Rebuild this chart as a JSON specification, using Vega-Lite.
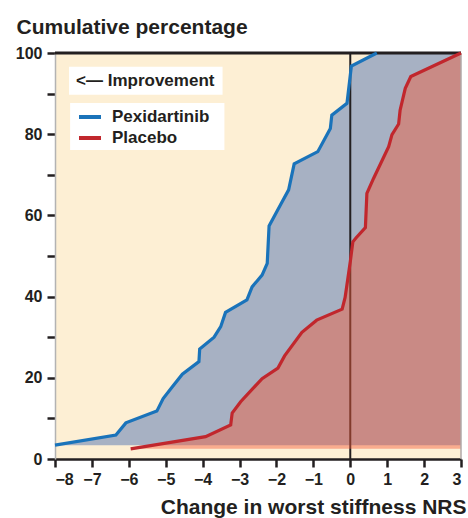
{
  "$schema": "https://vega.github.io/schema/vega-lite/v6.json",
  "width": 406,
  "height": 406,
  "autosize": {"type": "none"},
  "padding": {"left": 55, "top": 53, "right": 7, "bottom": 59},
  "background": "white",
  "config": {
    "view": {"fill": "#fdefd4", "stroke": null},
    "font": "Liberation Sans",
    "axis": {"zindex": 1, "grid": false, "labelColor": "#231f20", "titleColor": "#231f20", "tickColor": "#231f20", "labelFont": "Liberation Sans", "titleFont": "Liberation Sans", "labelFontWeight": "bold", "titleFontWeight": "bold"}
  },
  "datasets": {
    "curves": [
      {"series": "Pexidartinib", "x": -8, "y": 3.4},
      {"series": "Pexidartinib", "x": -6.35, "y": 5.9},
      {"series": "Pexidartinib", "x": -6.08, "y": 8.9},
      {"series": "Pexidartinib", "x": -5.24, "y": 11.8},
      {"series": "Pexidartinib", "x": -5.07, "y": 14.9},
      {"series": "Pexidartinib", "x": -4.82, "y": 17.8},
      {"series": "Pexidartinib", "x": -4.55, "y": 20.9},
      {"series": "Pexidartinib", "x": -4.1, "y": 24.0},
      {"series": "Pexidartinib", "x": -4.08, "y": 27.1},
      {"series": "Pexidartinib", "x": -3.69, "y": 30.0},
      {"series": "Pexidartinib", "x": -3.51, "y": 32.6},
      {"series": "Pexidartinib", "x": -3.38, "y": 36.1},
      {"series": "Pexidartinib", "x": -2.8, "y": 39.2},
      {"series": "Pexidartinib", "x": -2.66, "y": 42.4},
      {"series": "Pexidartinib", "x": -2.39, "y": 45.3},
      {"series": "Pexidartinib", "x": -2.25, "y": 48.2},
      {"series": "Pexidartinib", "x": -2.2, "y": 57.4},
      {"series": "Pexidartinib", "x": -1.89, "y": 62.6},
      {"series": "Pexidartinib", "x": -1.67, "y": 66.3},
      {"series": "Pexidartinib", "x": -1.52, "y": 72.7},
      {"series": "Pexidartinib", "x": -0.88, "y": 75.7},
      {"series": "Pexidartinib", "x": -0.54, "y": 81.4},
      {"series": "Pexidartinib", "x": -0.5, "y": 84.7},
      {"series": "Pexidartinib", "x": -0.09, "y": 87.6},
      {"series": "Pexidartinib", "x": 0.03, "y": 96.8},
      {"series": "Pexidartinib", "x": 0.72, "y": 100},
      {"series": "Placebo", "x": -5.95, "y": 2.5},
      {"series": "Placebo", "x": -3.92, "y": 5.5},
      {"series": "Placebo", "x": -3.24, "y": 8.4},
      {"series": "Placebo", "x": -3.2, "y": 11.3},
      {"series": "Placebo", "x": -2.97, "y": 14.1},
      {"series": "Placebo", "x": -2.39, "y": 19.8},
      {"series": "Placebo", "x": -1.96, "y": 22.4},
      {"series": "Placebo", "x": -1.78, "y": 25.4},
      {"series": "Placebo", "x": -1.31, "y": 31.2},
      {"series": "Placebo", "x": -0.91, "y": 34.2},
      {"series": "Placebo", "x": -0.22, "y": 36.9},
      {"series": "Placebo", "x": -0.14, "y": 39.8},
      {"series": "Placebo", "x": -0.09, "y": 42.9},
      {"series": "Placebo", "x": 0, "y": 48.6},
      {"series": "Placebo", "x": 0.07, "y": 53.5},
      {"series": "Placebo", "x": 0.16, "y": 54.5},
      {"series": "Placebo", "x": 0.41, "y": 57.0},
      {"series": "Placebo", "x": 0.45, "y": 65.4},
      {"series": "Placebo", "x": 0.63, "y": 69.1},
      {"series": "Placebo", "x": 1.04, "y": 76.9},
      {"series": "Placebo", "x": 1.13, "y": 79.9},
      {"series": "Placebo", "x": 1.31, "y": 82.5},
      {"series": "Placebo", "x": 1.35, "y": 85.9},
      {"series": "Placebo", "x": 1.49, "y": 91.3},
      {"series": "Placebo", "x": 1.64, "y": 94.2},
      {"series": "Placebo", "x": 3, "y": 100}
    ],
    "boxes": [
      {"x": -7.62, "x2": -3.46, "y": 89.7, "y2": 96.6, "label": "<— Improvement", "tx": -7.43, "ty": 93.1},
      {"x": -7.59, "x2": -3.41, "y": 76.1, "y2": 87.7, "label": "", "tx": -7.43, "ty": 82}
    ]
  },
  "encoding": {
    "x": {
      "type": "quantitative",
      "scale": {"domain": [-8, 3], "nice": false, "zero": false},
      "axis": {
        "title": "Change in worst stiffness NRS",
        "values": [-8, -7, -6, -5, -4, -3, -2, -1, 0, 1, 2, 3],
        "domainColor": "#231f20", "domainWidth": 2.5,
        "tickSize": 8, "tickWidth": 2.5,
        "labelFontSize": 16, "labelPadding": 4,
        "titleFontSize": 21, "titleAnchor": "end", "titleAlign": "right",
        "titleX": 411, "titleY": 54, "titleBaseline": "alphabetic"
      }
    },
    "y": {
      "type": "quantitative",
      "scale": {"domain": [0, 100], "nice": false},
      "axis": {
        "title": "Cumulative percentage",
        "values": [0, 10, 20, 30, 40, 50, 60, 70, 80, 90, 100],
        "labelExpr": "datum.value % 20 == 0 ? datum.label : ''",
        "domainColor": "#b3b3b3", "domainWidth": 1.5,
        "tickSize": 8, "tickWidth": 2.5,
        "labelFontSize": 16, "labelPadding": 5,
        "titleFontSize": 21, "titleAngle": 0, "titleAlign": "left",
        "titleX": -39, "titleY": -20, "titleBaseline": "alphabetic"
      }
    }
  },
  "layer": [
    {
      "data": {"name": "curves"},
      "transform": [{"filter": "datum.series == 'Pexidartinib'"}],
      "mark": {"type": "area", "orient": "horizontal", "color": "#a7b1c3"},
      "encoding": {
        "y": {"field": "y"},
        "x": {"field": "x"},
        "x2": {"datum": 3}
      }
    },
    {
      "data": {"values": [{}]},
      "mark": {"type": "rule", "color": "#231f20", "strokeWidth": 2},
      "encoding": {"x": {"datum": 0}}
    },
    {
      "data": {"name": "curves"},
      "transform": [{"filter": "datum.series == 'Placebo'"}],
      "mark": {"type": "area", "orient": "horizontal", "color": "#f35a39", "opacity": 0.45},
      "encoding": {
        "y": {"field": "y"},
        "x": {"field": "x"},
        "x2": {"datum": 3}
      }
    },
    {
      "data": {"values": [{}]},
      "mark": {"type": "rule", "color": "#b0a9a8", "strokeWidth": 1.5},
      "encoding": {"x": {"datum": 3}}
    },
    {
      "data": {"values": [{}]},
      "mark": {"type": "rule", "color": "#231f20", "strokeWidth": 3},
      "encoding": {"y": {"datum": 100}}
    },
    {
      "data": {"name": "curves"},
      "mark": {"type": "line", "strokeWidth": 3.2},
      "encoding": {
        "x": {"field": "x"},
        "y": {"field": "y"},
        "color": {
          "field": "series", "type": "nominal",
          "scale": {"domain": ["Pexidartinib", "Placebo"], "range": ["#1a73ba", "#c1272d"]},
          "legend": {
            "title": null, "orient": "none", "legendX": 22, "legendY": 51,
            "symbolType": "stroke", "symbolSize": 484, "symbolStrokeWidth": 4,
            "labelFontSize": 17, "labelFontWeight": "bold", "labelColor": "#231f20",
            "labelFont": "Liberation Sans", "labelOffset": 9, "rowPadding": 0, "padding": 0
          }
        }
      }
    },
    {
      "data": {"name": "boxes"},
      "mark": {"type": "rect", "color": "white"},
      "encoding": {
        "x": {"field": "x"},
        "x2": {"field": "x2"},
        "y": {"field": "y"},
        "y2": {"field": "y2"}
      }
    },
    {
      "data": {"name": "boxes"},
      "mark": {"type": "text", "align": "left", "baseline": "middle", "fontSize": 17, "fontWeight": "bold", "font": "Liberation Sans", "color": "#231f20"},
      "encoding": {
        "x": {"field": "tx"},
        "y": {"field": "ty"},
        "text": {"field": "label"}
      }
    }
  ]
}
